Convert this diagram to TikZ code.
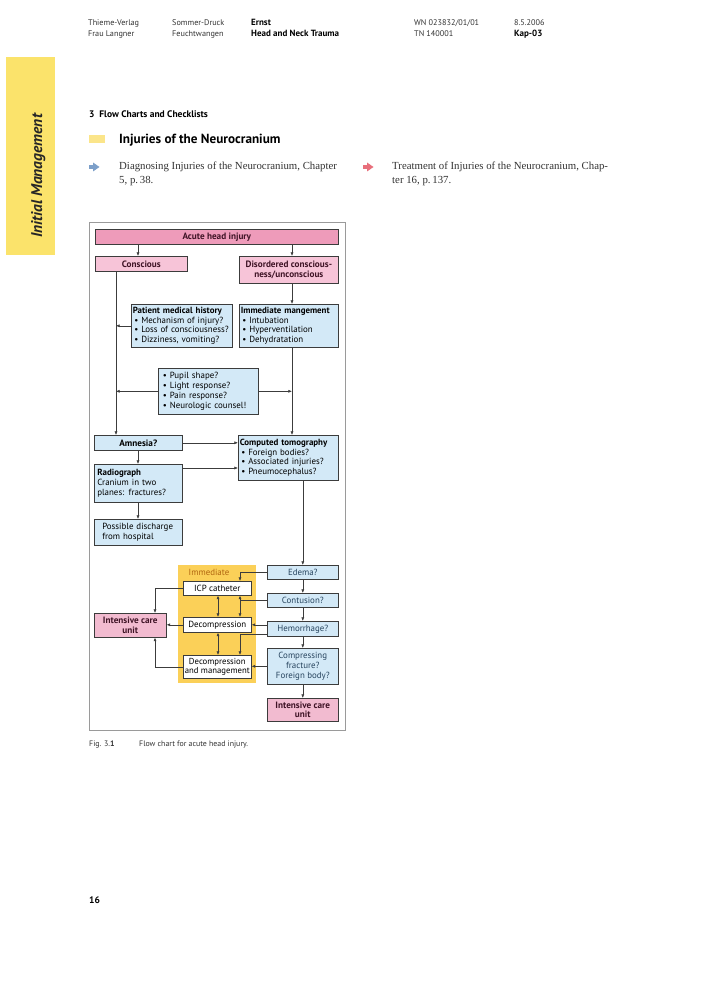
\documentclass[tikz,border=0pt]{standalone}
\usepackage{fontspec}
\setmainfont{PT Sans}
\newfontfamily\bodyserif{Liberation Serif}
\usetikzlibrary{arrows.meta,calc}
\definecolor{pinkdark}{HTML}{EE9BBA}
\definecolor{pinklight}{HTML}{F7C4D8}
\definecolor{icupink}{HTML}{F2BBD0}
\definecolor{boxblue}{HTML}{D3E9F7}
\definecolor{goldbg}{HTML}{FBD058}
\definecolor{tabyellow}{HTML}{FBE36B}
\definecolor{headyellow}{HTML}{FBE58A}
\definecolor{linec}{HTML}{3C3C3C}
\definecolor{framec}{HTML}{9A9A9A}
\definecolor{bluetext}{HTML}{27445E}
\definecolor{maroontext}{HTML}{3F1426}
\definecolor{orangetext}{HTML}{B0650F}
\definecolor{arrowblue}{HTML}{7C9FC9}
\definecolor{arrowred}{HTML}{E86F7B}
\definecolor{greytext}{HTML}{333333}
\newcommand\blt[1]{\mbox{\,•\ #1}}
\begin{document}
\begin{tikzpicture}[x=1pt,y=-1pt,
  box/.style={draw=linec, line width=0.6pt, anchor=north west, inner xsep=1.5pt, inner ysep=1pt,
    font=\fontsize{8.9}{9.7}\selectfont},
  lbox/.style={box, font=\fontsize{8.9}{9.8}\selectfont},
  bbox/.style={box, font=\fontsize{9.2}{9.8}\selectfont\bfseries, text=maroontext},
  arr/.style={draw=linec, line width=0.55pt, -{Latex[length=3.6pt,width=3pt]}},
  arrb/.style={draw=linec, line width=0.55pt, {Latex[length=3.6pt,width=3pt]}-{Latex[length=3.6pt,width=3pt]}},
  hdr/.style={anchor=base west, inner sep=0pt, font=\fontsize{8.2}{9}\selectfont, text=greytext},
  hdrb/.style={anchor=base west, inner sep=0pt, font=\fontsize{9}{9}\selectfont\bfseries, text=black},
  bodyline/.style={anchor=base west, inner sep=0pt, font=\bodyserif\fontsize{10.8}{14}\selectfont, text=greytext}]
\useasboundingbox[fill=white] (0,0) rectangle (707,1000);

% page header
\node[hdr] (h1) at (88,26) {Thieme-Verlag};
\node[hdr] (h2) at (88,37) {Frau Langner};
\node[hdr] (h3) at (172,26) {Sommer-Druck};
\node[hdr] (h4) at (172,37) {Feuchtwangen};
\node[hdrb] (h5) at (251,26) {Ernst};
\node[hdrb] (h6) at (251,37) {Head and Neck Trauma};
\node[hdr] (h7) at (414,26) {WN 023832/01/01};
\node[hdr] (h8) at (414,37) {TN 140001};
\node[hdr] (h9) at (514,26) {8.5.2006};
\node[hdrb] (h10) at (514,37) {Kap-03};

% side tab
\fill[tabyellow] (6,57) rectangle (55,255);
\node[rotate=90, anchor=base, inner sep=0pt, font=\fontsize{15.5}{17}\selectfont\bfseries\itshape, text=black!85] (tab) at (42,176) {Initial Management};

% headings
\node[anchor=base west, inner sep=0pt, font=\fontsize{9.5}{11}\selectfont\bfseries] (chap) at (89,118) {3\ \ Flow Charts and Checklists};
\fill[headyellow] (89,135) rectangle (105,143);
\node[anchor=base west, inner sep=0pt, font=\fontsize{13.2}{15}\selectfont\bfseries] (title) at (119,143.5) {Injuries of the Neurocranium};
\fill[arrowblue] (89,165.3) rectangle (94,168.7);
\fill[arrowblue] (93,162.5) -- (99.5,167) -- (93,171.5) -- cycle;
\fill[arrowred] (363,165.3) rectangle (368,168.7);
\fill[arrowred] (367,162.5) -- (373.5,167) -- (367,171.5) -- cycle;
\node[bodyline] (ref1a) at (119,170) {Diagnosing Injuries of the Neurocranium, Chapter};
\node[bodyline] (ref1b) at (119,184) {5, p.\,38.};
\node[bodyline] (ref2a) at (392,170) {Treatment of Injuries of the Neurocranium, Chap-};
\node[bodyline] (ref2b) at (392,184) {ter 16, p.\,137.};

% figure frame
\draw[framec, line width=0.6pt] (89,222) rectangle (345,730);

% column coordinates
\coordinate (xL) at (116,0);
\coordinate (xA) at (138,0);
\coordinate (xR) at (292,0);
\coordinate (xM) at (240,0);
\coordinate (xD) at (218,0);
\coordinate (xI) at (155,0);
\coordinate (yR) at (0,468);

% nodes
\node[bbox, fill=pinkdark, minimum width=243pt, minimum height=15pt, align=center] (acute) at (95,229) {Acute head injury};
\node[bbox, fill=pinklight, minimum width=92pt, minimum height=15pt, align=center] (conscious) at (95,256) {Conscious};
\node[bbox, fill=pinklight, minimum width=99pt, minimum height=27pt, align=center] (disordered) at (239,256) {Disordered conscious-\\ness/unconscious};
\node[box, fill=boxblue, minimum height=43pt, text width=98pt, align=left] (history) at (131,304) {\mbox{\textbf{Patient medical history}}\\\blt{Mechanism of injury?}\\\blt{Loss of consciousness?}\\\blt{Dizziness, vomiting?}};
\node[box, fill=boxblue, minimum height=43pt, text width=96pt, align=left] (immediate) at (239,304) {\mbox{\textbf{Immediate mangement}}\\\blt{Intubation}\\\blt{Hyperventilation}\\\blt{Dehydratation}};
\node[box, fill=boxblue, minimum height=46pt, inner xsep=3pt, text width=94pt, align=left] (pupil) at (158,368) {\blt{Pupil shape?}\\\blt{Light response?}\\\blt{Pain response?}\\\blt{Neurologic counsel!}};
\node[bbox, text=black, fill=boxblue, minimum width=88pt, minimum height=15pt, align=center] (amnesia) at (94,435) {Amnesia?};
\node[box, fill=boxblue, minimum height=45pt, text width=97pt, align=left] (ct) at (238,435) {\mbox{\textbf{Computed tomography}}\\\blt{Foreign bodies?}\\\blt{Associated injuries?}\\\blt{Pneumocephalus?}};
\node[box, fill=boxblue, minimum height=38pt, inner xsep=3pt, text width=82pt, align=left] (radio) at (94,464) {\textbf{Radiograph}\\Cranium in two\\planes: fractures?};
\node[box, fill=boxblue, minimum height=26pt, inner xsep=3pt, text width=82pt, align=left] (discharge) at (94,519) {\hspace*{5pt}Possible discharge\\\hspace*{5pt}from hospital};

\fill[goldbg] (178,565) rectangle (256,683);
\node[anchor=base, inner sep=0pt, font=\fontsize{8.9}{9.8}\selectfont, text=orangetext] (immlabel) at (209,575.5) {Immediate};

\node[lbox, fill=boxblue, text=bluetext, minimum width=71pt, minimum height=14pt, align=center] (edema) at (267,565) {Edema?};
\node[lbox, fill=white, minimum width=68pt, minimum height=14pt, align=center] (icp) at (183,581) {ICP catheter};
\node[lbox, fill=boxblue, text=bluetext, minimum width=71pt, minimum height=14pt, align=center] (contusion) at (267,593) {Contusion?};
\node[bbox, fill=icupink, minimum width=72pt, minimum height=24pt, align=center] (icuL) at (94,613) {Intensive care\\unit};
\node[lbox, fill=white, minimum width=68pt, minimum height=15pt, align=center] (decomp) at (183,617) {Decompression};
\node[lbox, fill=boxblue, text=bluetext, minimum width=71pt, minimum height=15pt, align=center] (hemorrhage) at (267,621) {Hemorrhage?};
\node[lbox, fill=boxblue, text=bluetext, minimum width=71pt, minimum height=36pt, align=center] (compressing) at (267,648) {Compressing\\fracture?\\Foreign body?};
\node[lbox, fill=white, minimum width=68pt, minimum height=23pt, inner xsep=0.5pt, align=center, font=\fontsize{8.7}{9.8}\selectfont] (dm) at (183,655) {Decompression\\and management};
\node[bbox, fill=icupink, minimum width=71pt, minimum height=23pt, align=center] (icuR) at (267,698) {Intensive care\\unit};

% connectors
\draw[arr] (acute.south -| xA) -- (conscious.north -| xA);
\draw[arr] (acute.south -| xR) -- (disordered.north -| xR);
\draw[arr] (conscious.south -| xL) -- (amnesia.north -| xL);
\draw[arr] (history.west) -- (history.west -| xL);
\draw[arr] (disordered.south -| xR) -- (immediate.north -| xR);
\draw[arr] (immediate.south -| xR) -- (ct.north -| xR);
\draw[arr] (pupil.west) -- (pupil.west -| xL);
\draw[arr] (pupil.east) -- (pupil.east -| xR);
\draw[arr] (amnesia.east) -- (amnesia.east -| ct.west);
\draw[arr] (amnesia.south -| xA) -- (radio.north -| xA);
\draw[arr] (radio.east |- yR) -- (ct.west |- yR);
\draw[arr] (radio.south -| xA) -- (discharge.north -| xA);
\draw[arr] (ct.south -| edema.north) -- (edema.north);
\draw[arr] (edema.south) -- (contusion.north);
\draw[arr] (contusion.south) -- (hemorrhage.north);
\draw[arr] (hemorrhage.south) -- (compressing.north);
\draw[arr] (compressing.south) -- (icuR.north);
\draw[arr] (edema.west) -| (icp.north -| xM);
\draw[arr] (contusion.west) -| (icp.south -| xM);
\draw[arr] (contusion.west) -| (decomp.north -| xM);
\draw[arrb] (icp.south -| xD) -- (decomp.north -| xD);
\draw[arr] (hemorrhage.west |- decomp.east) -- (decomp.east);
\draw[arr] ($(hemorrhage.south west)+(0,-2)$) -| (dm.north -| xM);
\draw[arrb] (decomp.south -| xD) -- (dm.north -| xD);
\draw[arr] (compressing.west) -- (compressing.west -| dm.east);
\draw[arr] (icp.west) -| (icuL.north -| xI);
\draw[arr] (decomp.west) -- (decomp.west -| icuL.east);
\draw[arr] (dm.west) -| (icuL.south -| xI);

% caption and page number
\node[anchor=base west, inner sep=0pt, font=\fontsize{7.9}{9}\selectfont, text=greytext] (figno) at (89,746) {Fig. 3.\textbf{1}};
\node[anchor=base west, inner sep=0pt, font=\fontsize{7.9}{9}\selectfont, text=greytext] (caption) at (139,746) {Flow chart for acute head injury.};
\node[anchor=base west, inner sep=0pt, font=\fontsize{9.5}{11}\selectfont\bfseries] (pageno) at (89,903) {16};
\end{tikzpicture}
\end{document}
